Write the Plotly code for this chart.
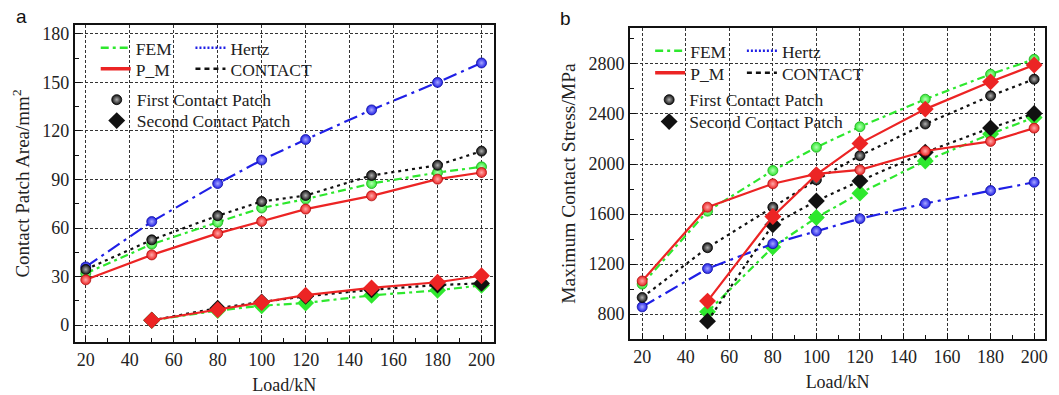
import plotly.graph_objects as go

loads_first = [20, 50, 80, 100, 120, 150, 180, 200]
loads_second = [50, 80, 100, 120, 150, 180, 200]

# Panel a: contact patch area (mm^2)
area_fem_first = [32, 50, 63.6, 72.4, 77.9, 87.5, 94.3, 97.8]
area_pm_first = [28, 43.4, 56.7, 64.1, 71.7, 79.9, 90.2, 94.3]
area_hertz_first = [36, 64, 87.5, 102, 114.7, 133, 150, 162]
area_contact_first = [34.4, 52.7, 67.6, 76.4, 80.1, 92.5, 98.8, 107.5]
area_fem_second = [3, 9, 12, 13.7, 18.4, 21.5, 24.6]
area_pm_second = [3, 9.5, 14, 18.5, 23, 26.5, 30.5]
area_contact_second = [3, 10.5, 14.3, 17.8, 21.9, 24.8, 25.8]

# Panel b: maximum contact stress (MPa)
stress_fem_first = [1040, 1623, 1948, 2134, 2298, 2518, 2718, 2837]
stress_pm_first = [1065, 1655, 1842, 1921, 1953, 2104, 2181, 2287]
stress_hertz_first = [858, 1164, 1363, 1464, 1563, 1685, 1788, 1854]
stress_contact_first = [933, 1331, 1655, 1873, 2067, 2320, 2545, 2678]
stress_fem_second = [818, 1336, 1572, 1767, 2024, 2240, 2372]
stress_pm_second = [904, 1581, 1915, 2165, 2439, 2657, 2792]
stress_contact_second = [744, 1515, 1705, 1865, 2094, 2288, 2404]

x_ticks = [20, 40, 60, 80, 100, 120, 140, 160, 180, 200]
area_ticks = [0, 30, 60, 90, 120, 150, 180]
stress_ticks = [800, 1200, 1600, 2000, 2400, 2800]

GREEN = "#2ee82e"
BLUE = "#1f1fe6"
RED = "#ec2424"
BLACK = "#111111"
SERIF = "Liberation Serif"

styles = {
    "FEM": dict(color=GREEN, dash="8px,4px,3px,4px", tint="#b6ffb6", edge="#1caa1c"),
    "Hertz": dict(color=BLUE, dash="14px,5px,3px,5px", tint="#a8a8ff", edge="#1010a0"),
    "CONTACT": dict(color=BLACK, dash="3px,4px", tint="#b0b0b0", edge="#000000"),
    "P_M": dict(color=RED, dash="solid", tint="#ffaaaa", edge="#b01010"),
}

fig = go.Figure()


def add_series(name, x, y, marker, xa, ya):
    st = styles[name]
    if marker == "circle":
        mk = dict(symbol="circle", size=10, color=st["color"],
                  gradient=dict(type="radial", color=st["tint"]),
                  line=dict(width=0.8, color=st["edge"]))
    else:
        mk = dict(symbol="diamond", size=13, color=st["color"],
                  line=dict(width=0))
    fig.add_trace(go.Scatter(
        x=x, y=y, mode="lines+markers", name=name, showlegend=False,
        line=dict(color=st["color"], dash=st["dash"], width=2.2),
        marker=mk, xaxis=xa, yaxis=ya))


# panel a
for name, yf, ys in [
    ("FEM", area_fem_first, area_fem_second),
    ("Hertz", area_hertz_first, None),
    ("CONTACT", area_contact_first, area_contact_second),
    ("P_M", area_pm_first, area_pm_second),
]:
    add_series(name, loads_first, yf, "circle", "x", "y")
    if ys is not None:
        add_series(name, loads_second, ys, "diamond", "x", "y")

# panel b
for name, yf, ys in [
    ("FEM", stress_fem_first, stress_fem_second),
    ("Hertz", stress_hertz_first, None),
    ("CONTACT", stress_contact_first, stress_contact_second),
    ("P_M", stress_pm_first, stress_pm_second),
]:
    add_series(name, loads_first, yf, "circle", "x2", "y2")
    if ys is not None:
        add_series(name, loads_second, ys, "diamond", "x2", "y2")

W, H = 1059, 395
legfont = dict(family=SERIF, size=17.5, color="#222222")

# legend entries: one small legend per entry, placed by text position (px)
# (name, panel, text_left_px, row_center_px)
legend_items = [
    ("FEM", "a", 137, 47), ("P_M", "a", 137, 68),
    ("Hertz", "a", 232, 47), ("CONTACT", "a", 232, 68),
    ("First Contact Patch", "a", 138, 99), ("Second Contact Patch", "a", 138, 120),
    ("FEM", "b", 693, 50), ("P_M", "b", 693, 72),
    ("Hertz", "b", 785, 50), ("CONTACT", "b", 785, 72),
    ("First Contact Patch", "b", 692, 99), ("Second Contact Patch", "b", 692, 121),
]

legend_layout = {}
for i, (name, panel, tx, cy) in enumerate(legend_items):
    key = "legend" if i == 0 else f"legend{i + 1}"
    xa, ya = ("x", "y") if panel == "a" else ("x2", "y2")
    if name in styles:
        st = styles[name]
        dash = {"Hertz": "2px,2px", "CONTACT": "5px,4px"}.get(name, st["dash"])
        fig.add_trace(go.Scatter(
            x=[None], y=[None], mode="lines", name=name, legend=key,
            line=dict(color=st["color"], dash=dash, width=3.5 if name == "P_M" else 2.6),
            xaxis=xa, yaxis=ya))
    else:
        if name.startswith("First"):
            mk = dict(symbol="circle", size=10, color=BLACK,
                      gradient=dict(type="radial", color="#b0b0b0"),
                      line=dict(width=0.8, color="#000000"))
        else:
            mk = dict(symbol="diamond", size=13, color=BLACK)
        fig.add_trace(go.Scatter(
            x=[None], y=[None], mode="markers", name=name, legend=key,
            marker=mk, xaxis=xa, yaxis=ya))
    legend_layout[key] = dict(
        x=(tx - 41) / W, y=1 - (cy - 18) / H, xanchor="left", yanchor="top",
        bgcolor="rgba(0,0,0,0)", borderwidth=0, font=legfont,
        tracegroupgap=0, itemwidth=30)

minor_common = dict(ticks="inside", ticklen=4, tickwidth=1, tickcolor="#111111", showgrid=False)
axis_common = dict(
    showline=True, linecolor="#111111", linewidth=2, mirror=True,
    ticks="inside", ticklen=6, tickwidth=1.2, tickcolor="#111111",
    showgrid=True, gridcolor="#333333", griddash="3px,2px", gridwidth=1,
    zeroline=False,
    tickfont=dict(family=SERIF, size=18, color="#222222"),
)

fig.update_layout(
    width=W, height=H,
    margin=dict(l=0, r=0, t=0, b=0),
    paper_bgcolor="white", plot_bgcolor="white",
    font=dict(family=SERIF, color="#222222"),
    xaxis=dict(domain=[75 / W, 495 / W], range=[15, 205.5], tickvals=x_ticks,
               minor=dict(dtick=10, tick0=0, **minor_common),
               title=dict(text="Load/kN", font=dict(family=SERIF, size=18), standoff=10),
               anchor="y", **axis_common),
    yaxis=dict(domain=[1 - 342 / H, 1 - 24 / H], range=[-10.5, 185.5], tickvals=area_ticks,
               minor=dict(dtick=15, tick0=0, **minor_common),
               title=dict(text="Contact Patch Area/mm<sup>2</sup>",
                          font=dict(family=SERIF, size=19), standoff=8),
               anchor="x", **axis_common),
    xaxis2=dict(domain=[632 / W, 1048 / W], range=[14.5, 205], tickvals=x_ticks,
                minor=dict(dtick=10, tick0=0, **minor_common),
                title=dict(text="Load/kN", font=dict(family=SERIF, size=18), standoff=10),
                anchor="y2", **axis_common),
    yaxis2=dict(domain=[1 - 339 / H, 1 - 27 / H], range=[600, 3088], tickvals=stress_ticks,
                minor=dict(dtick=200, tick0=0, **minor_common),
                title=dict(text="Maximum Contact Stress/MPa",
                           font=dict(family=SERIF, size=19.5), standoff=8),
                anchor="x2", **axis_common),
    annotations=[
        dict(text="a", x=22 / W, y=1 - 16 / H, xref="paper", yref="paper",
             xanchor="center", yanchor="middle",
             showarrow=False, font=dict(family="Liberation Sans", size=19, color="#111111")),
        dict(text="b", x=567 / W, y=1 - 18 / H, xref="paper", yref="paper",
             xanchor="center", yanchor="middle",
             showarrow=False, font=dict(family="Liberation Sans", size=19, color="#111111")),
    ],
    **legend_layout,
)

fig.write_html("out.html")
